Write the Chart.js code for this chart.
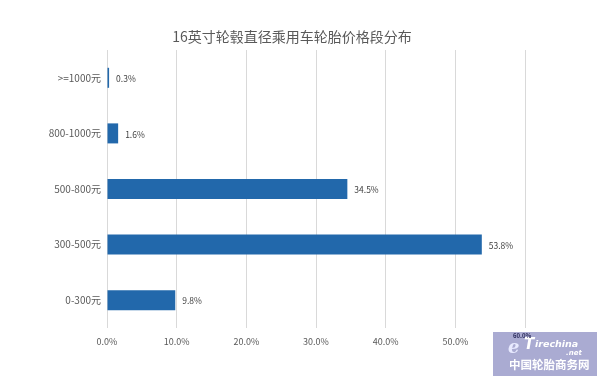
<!DOCTYPE html>
<html>
<head>
<meta charset="utf-8">
<script src="https://cdn.jsdelivr.net/npm/chart.js@4/dist/chart.umd.min.js"></script>
<style>
  html, body { margin: 0; padding: 0; background: #fff; }
  #wrap { width: 600px; height: 380px; }
</style>
</head>
<body>
<div id="wrap"><canvas id="c" width="600" height="380"></canvas></div>
<script>
// Price segments (top to bottom) and their share in percent
const categories = ['>=1000元', '800-1000元', '500-800元', '300-500元', '0-300元'];
const shares = [0.3, 1.6, 34.5, 53.8, 9.8];
const axisTicks = [0, 10, 20, 30, 40, 50, 60];
const titleText = '16英寸轮毂直径乘用车轮胎价格段分布';

const FONT = '"Noto Sans CJK SC", "Noto Sans", sans-serif';

// Chart heading, centred slightly left of the canvas middle
const heading = {
  id: 'heading',
  afterDraw(chart) {
    const ctx = chart.ctx;
    ctx.save();
    ctx.font = '14px ' + FONT;
    ctx.fillStyle = '#595959';
    ctx.textAlign = 'center';
    ctx.textBaseline = 'middle';
    ctx.fillText(titleText, 292, 37);
    ctx.restore();
  }
};

// Value labels drawn just right of each bar
const valueLabels = {
  id: 'valueLabels',
  afterDatasetsDraw(chart) {
    const ctx = chart.ctx;
    const meta = chart.getDatasetMeta(0);
    ctx.save();
    ctx.font = '8.5px ' + FONT;
    ctx.fillStyle = '#404040';
    ctx.textAlign = 'left';
    ctx.textBaseline = 'middle';
    meta.data.forEach((bar, i) => {
      ctx.fillText(shares[i].toFixed(1) + '%', bar.x + 7, bar.y + 1);
    });
    ctx.restore();
  }
};

// Site badge in the lower right corner
const badge = {
  id: 'badge',
  afterDraw(chart) {
    const ctx = chart.ctx;
    ctx.save();
    ctx.fillStyle = '#aaabd2';
    ctx.fillRect(493, 332, 104, 44);
    ctx.textBaseline = 'alphabetic';
    ctx.font = 'italic bold 18px "DejaVu Serif", serif';
    ctx.fillStyle = '#e8eaff';
    ctx.fillText('e', 508, 353);
    ctx.font = 'italic bold 15px "DejaVu Sans", sans-serif';
    ctx.fillStyle = '#ffffff';
    ctx.fillText('T', 524, 349);
    ctx.font = 'italic bold 9.5px "DejaVu Sans", sans-serif';
    ctx.fillText('irechina', 535, 347);
    ctx.font = 'italic bold 7px "DejaVu Sans", sans-serif';
    ctx.fillText('.net', 566, 355);
    ctx.font = 'bold 6px ' + FONT;
    ctx.fillStyle = '#2a2a5a';
    ctx.fillText('60.0%', 513, 338);
    ctx.fillStyle = '#ffffff';
    ctx.font = 'bold 11.5px ' + FONT;
    ctx.fillText('中国轮胎商务网', 509, 369);
    ctx.restore();
  }
};

new Chart(document.getElementById('c'), {
  type: 'bar',
  data: {
    labels: categories,
    datasets: [{
      data: shares,
      backgroundColor: '#2268ab',
      borderWidth: 0,
      categoryPercentage: 1,
      barPercentage: 0.36
    }]
  },
  options: {
    indexAxis: 'y',
    responsive: false,
    animation: false,
    devicePixelRatio: 1,
    layout: { padding: { left: 0, right: 75, top: 50, bottom: 0 } },
    plugins: {
      legend: { display: false },
      tooltip: { enabled: false },
      title: { display: false }
    },
    scales: {
      x: {
        min: axisTicks[0],
        max: axisTicks[axisTicks.length - 1],
        afterBuildTicks(scale) {
          scale.ticks = axisTicks.map(v => ({ value: v }));
        },
        afterFit(scale) { scale.height = 52; },
        grid: { color: '#d9d9d9', drawTicks: false, lineWidth: 1 },
        border: { display: false },
        ticks: {
          padding: 8,
          color: '#595959',
          font: { family: FONT, size: 9 },
          callback: (v) => v === 60 ? '' : Number(v).toFixed(1) + '%'
        }
      },
      y: {
        afterFit(scale) { scale.width = 107; },
        grid: { display: false, drawTicks: false },
        border: { display: false },
        ticks: {
          padding: 6,
          color: '#595959',
          font: { family: FONT, size: 10 }
        }
      }
    }
  },
  plugins: [heading, valueLabels, badge]
});
</script>
</body>
</html>
